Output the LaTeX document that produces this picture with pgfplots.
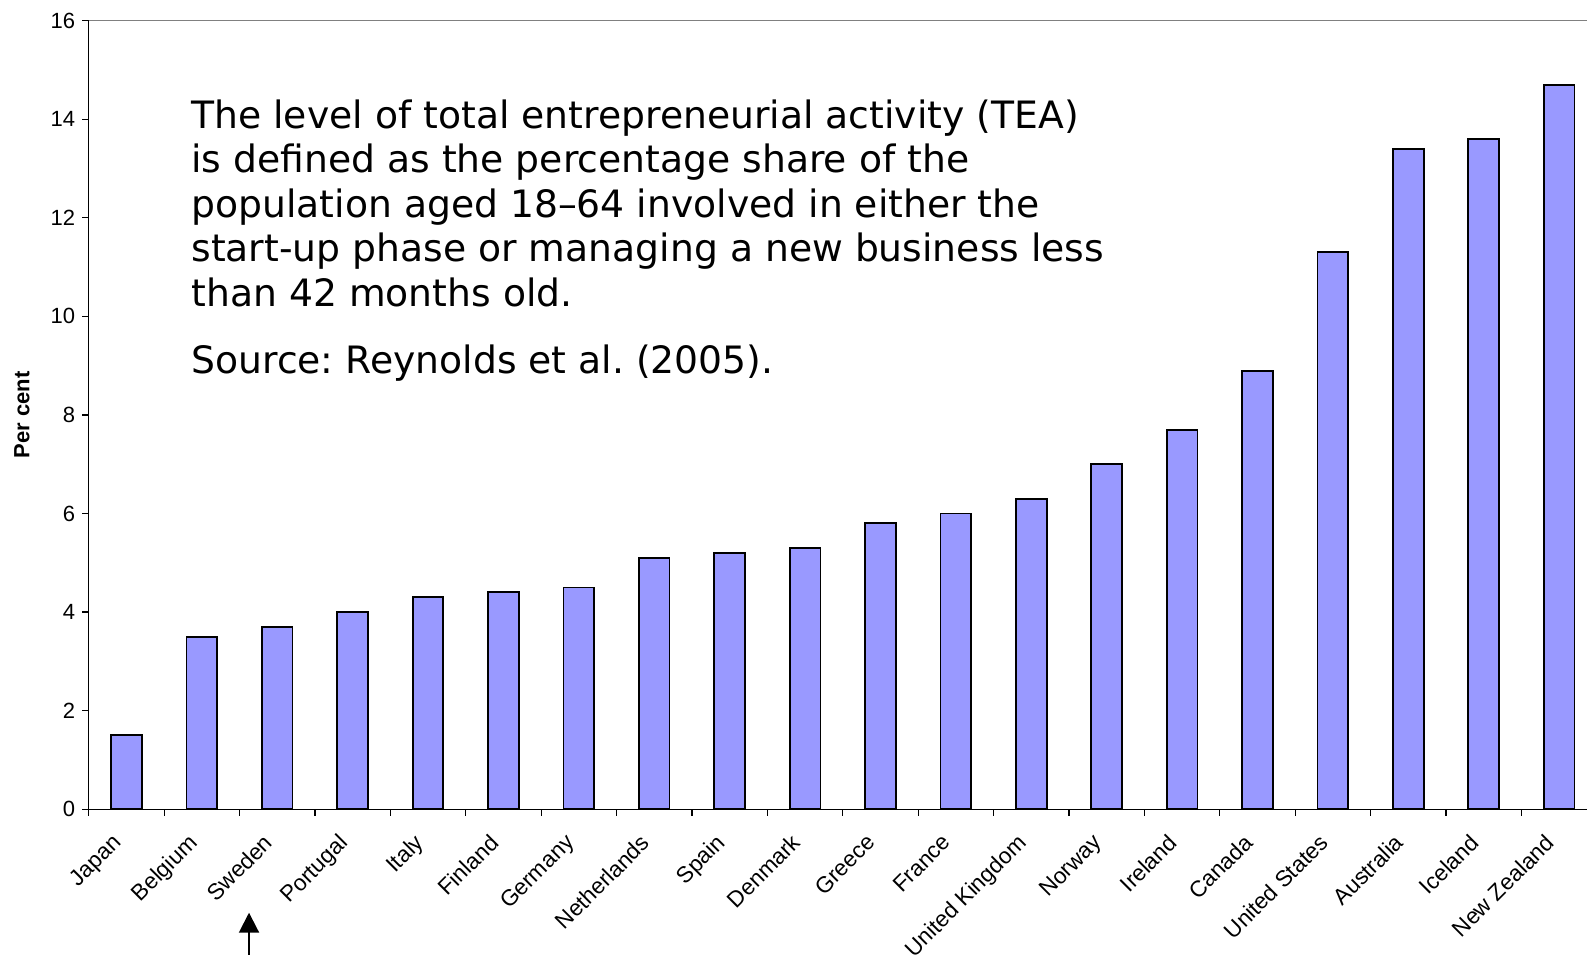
\documentclass[border=0pt]{standalone}
\usepackage{pgfplots}
\pgfplotsset{compat=1.18}
\usepackage{fontspec}
\setmainfont{Liberation Sans}
\newfontfamily\verd{DejaVu Sans}
\usetikzlibrary{arrows.meta}
\definecolor{barblue}{HTML}{9999FF}
\frenchspacing

\begin{document}
\begin{tikzpicture}
\begin{axis}[
  scale only axis, width=749.2bp, height=394.3bp,
  xmin=-0.5, xmax=19.37, ymin=0, ymax=16,
  axis x line*=bottom, axis y line*=left,
  axis line style={line width=0.6bp, black},
  ytick={0,2,...,16},
  xtick={0,...,19},
  xticklabels={Japan,Belgium,Sweden,Portugal,Italy,Finland,Germany,Netherlands,Spain,Denmark,Greece,France,United Kingdom,Norway,Ireland,Canada,United States,Australia,Iceland,New Zealand},
  minor xtick={-0.5,0.5,...,18.5},
  tick align=outside,
  major tick length=3.3bp, minor tick length=3.3bp,
  tick style={black, line width=0.6bp},
  major x tick style={draw=none},
  xticklabel style={xshift=-7.5bp, yshift=-3.5bp, rotate=45, anchor=north east, font=\fontsize{11.3bp}{13bp}\selectfont},
  yticklabel style={font=\fontsize{11bp}{13bp}\selectfont},
  /pgf/number format/assume math mode=true,
  ylabel={Per cent},
  every axis y label/.style={at={(rel axis cs:-0.0445,0.5)}, rotate=90, anchor=center, font=\fontsize{11bp}{13bp}\selectfont\bfseries},
  clip=false,
  ybar, bar width=15.35bp,
]
\addplot[fill=barblue, draw=black, line width=0.9bp] coordinates {
(0,1.5) (1,3.5) (2,3.7) (3,4.0) (4,4.3) (5,4.4) (6,4.5) (7,5.1) (8,5.2) (9,5.3)
(10,5.8) (11,6.0) (12,6.3) (13,7.0) (14,7.7) (15,8.9) (16,11.3) (17,13.4) (18,13.6) (19,14.7)};
\draw[gray, line width=0.6bp] (rel axis cs:0,1) -- (rel axis cs:1,1);
\node[anchor=north west, inner sep=0pt, align=left, font=\verd\fontsize{18.85bp}{22.3bp}\selectfont] at (rel axis cs:0.0683,0.9005)
{The level of total entrepreneurial activity (TEA)\\
is defined as the percentage share of the\\
population aged 18–64 involved in either the\\
start-up phase or managing a new business less\\
than 42 months old.\\[11bp]
Source: Reynolds et al. (2005).};
\draw[line width=1bp, -{Triangle[width=10bp,length=10bp]}] (axis cs:1.626,-2.955) -- (axis cs:1.626,-2.10);
\coordinate (bbsw) at (rel axis cs:-0.0592,-0.1848);
\coordinate (bbne) at (rel axis cs:1,1.02625);
\end{axis}
\pgfresetboundingbox
\path[use as bounding box] (bbsw) rectangle (bbne);
\end{tikzpicture}
\end{document}
